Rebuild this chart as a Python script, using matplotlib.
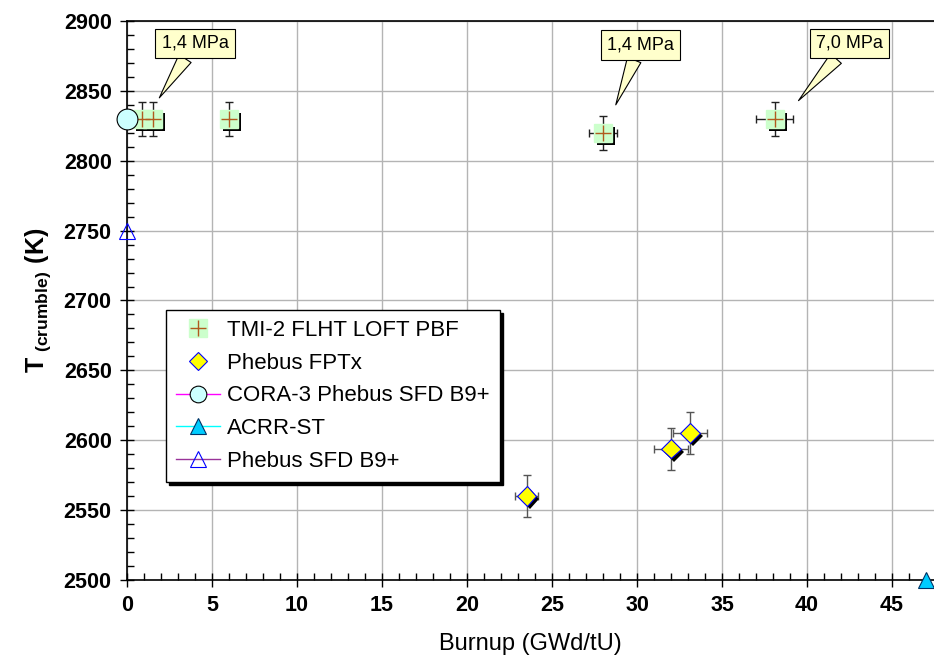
import matplotlib
matplotlib.use("Agg")
import matplotlib.pyplot as plt
import matplotlib.patheffects as pe
from matplotlib.lines import Line2D
from matplotlib.ticker import MultipleLocator

plt.rcParams['font.family'] = ['Liberation Sans', 'DejaVu Sans']
plt.rcParams['mathtext.fontset'] = 'custom'
plt.rcParams['mathtext.rm'] = 'Liberation Sans'
plt.rcParams['mathtext.bf'] = 'Liberation Sans:bold'

# TMI-2 FLHT LOFT PBF
tmi_x = [0.9, 1.5, 6.0, 28.0, 38.1]
tmi_y = [2830, 2830, 2830, 2820, 2830]
tmi_xerr = [0, 0, 0, 0.8, 1.1]
tmi_yerr = [12, 12, 12, 12, 12]

# Phebus FPTx
fpt_x = [23.5, 32.0, 33.1]
fpt_y = [2560, 2594, 2605]
fpt_xerr = [0.7, 1.0, 1.0]
fpt_yerr = [15, 15, 15]

# single points
cora_x, cora_y = [0.0], [2830]
acrr_x, acrr_y = [47.0], [2500]
sfd_x, sfd_y = [0.0], [2750]

# pressure callouts: text, tip (x, y), box centre (x, y)
callout_text = ['1,4 MPa', '1,4 MPa', '7,0 MPa']
callout_tip = [(1.9, 2845), (28.75, 2840), (39.5, 2843)]
callout_box = [(4.0, 2884), (30.2, 2883), (42.5, 2884)]

fig = plt.figure(figsize=(9.34, 6.68), dpi=100)
ax = fig.add_axes([0.136, 0.1317, 1 - 0.136, 0.9686 - 0.1317])

shadow = [pe.withSimplePatchShadow(offset=(2.2, -2.2), shadow_rgbFace='black', alpha=1.0)]

ax.errorbar(tmi_x, tmi_y, xerr=tmi_xerr, yerr=tmi_yerr, fmt='none',
            ecolor='#222222', elinewidth=1, capsize=3, capthick=1, zorder=3)
ax.errorbar(fpt_x, fpt_y, xerr=fpt_xerr, yerr=fpt_yerr, fmt='none',
            ecolor='#555555', elinewidth=1, capsize=3, capthick=1, zorder=3)

ax.plot(tmi_x, tmi_y, 's', ms=13, mfc='#ccffcc', mec='#ccffcc',
        path_effects=shadow, zorder=4)
ax.plot(tmi_x, tmi_y, '+', ms=12, mew=1, color='#b05a1e', zorder=5)
ax.plot(fpt_x, fpt_y, 'D', ms=10, mfc='yellow', mec='blue', mew=0.8,
        path_effects=shadow, zorder=5)
ax.plot(cora_x, cora_y, 'o', ms=15, mfc='#ccffff', mec='black', mew=0.8,
        clip_on=False, zorder=6)
ax.plot(acrr_x, acrr_y, '^', ms=12, mfc='#00ccff', mec='#003366', mew=0.8,
        clip_on=False, zorder=6)
ax.plot(sfd_x, sfd_y, '^', ms=11.5, mfc='none', mec='blue', mew=0.8,
        clip_on=False, zorder=6)

for txt, tip, box in zip(callout_text, callout_tip, callout_box):
    ax.annotate(txt, xy=tip, xytext=box, ha='center', va='center', fontsize=13,
                bbox=dict(boxstyle='square,pad=0.35', fc='#ffffcc', ec='black', lw=0.8),
                arrowprops=dict(arrowstyle='wedge,tail_width=0.8,shrink_factor=0.5',
                                fc='#ffffcc', ec='black', lw=0.8, shrinkA=0, shrinkB=0),
                zorder=7)

ax.set_xlim(0, 47.47)
ax.set_ylim(2500, 2900)
ax.xaxis.set_major_locator(MultipleLocator(5))
ax.xaxis.set_minor_locator(MultipleLocator(1))
ax.yaxis.set_major_locator(MultipleLocator(50))
ax.yaxis.set_minor_locator(MultipleLocator(10))
ax.tick_params(which='major', direction='inout', length=10, width=1, labelsize=15.5, pad=6)
ax.tick_params(which='minor', direction='in', length=5, width=1)
for lab in ax.get_xticklabels() + ax.get_yticklabels():
    lab.set_fontweight('bold')
ax.grid(True, which='major', color='#b4b4b4', lw=1)
ax.set_axisbelow(True)
ax.spines['right'].set_visible(False)
for s in ['left', 'bottom', 'top']:
    ax.spines[s].set_linewidth(1.2)

ax.set_xlabel('Burnup (GWd/tU)', fontsize=17, labelpad=12)
ax.set_ylabel(r'$\mathbf{T}_{\ \mathbf{(crumble)}}\ \mathbf{(K)}$', fontsize=18, labelpad=8)

handles = [
    (Line2D([], [], ls='none', marker='s', ms=13, mfc='#ccffcc', mec='#ccffcc'),
     Line2D([], [], ls='none', marker='+', ms=12, mew=1, color='#b05a1e')),
    Line2D([], [], ls='none', marker='D', ms=9, mfc='yellow', mec='blue', mew=0.8),
    Line2D([], [], color='magenta', lw=1, marker='o', ms=12, mfc='#ccffff', mec='black', mew=0.8),
    Line2D([], [], color='cyan', lw=1, marker='^', ms=12, mfc='#00ccff', mec='#003366', mew=0.8),
    Line2D([], [], color='#993399', lw=1, marker='^', ms=11, mfc='none', mec='blue', mew=0.8),
]
labels = ['TMI-2 FLHT LOFT PBF', 'Phebus FPTx', 'CORA-3 Phebus SFD B9+', 'ACRR-ST', 'Phebus SFD B9+']
leg = ax.legend(handles, labels, loc='lower left', bbox_to_anchor=(0.0483, 0.1753),
                borderaxespad=0, fontsize=16, fancybox=False, framealpha=1,
                edgecolor='black', handlelength=2.0, handletextpad=0.3,
                borderpad=0.45, labelspacing=0.53,
                shadow={'color': 'black', 'alpha': 1.0})
leg.get_frame().set_linewidth(1)
leg.set_zorder(8)

fig.savefig('out.png', dpi=100)
